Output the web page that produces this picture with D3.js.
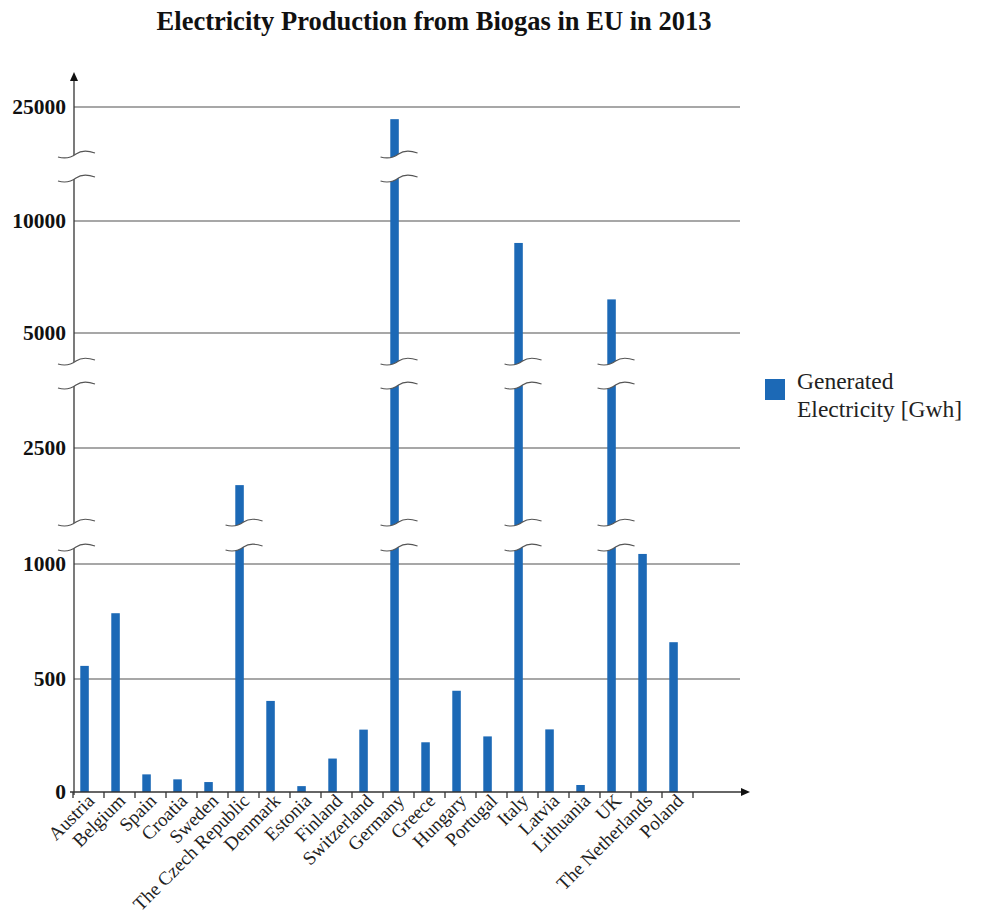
<!DOCTYPE html>
<html>
<head>
<meta charset="utf-8">
<script src="https://cdn.jsdelivr.net/npm/d3@7/dist/d3.min.js"></script>
<style>
  body { margin: 0; background: #fff; }
  svg { display: block; }
  text { font-family: "Liberation Serif", "Times New Roman", serif; }
</style>
</head>
<body>
<svg id="chart" width="984" height="916"></svg>
<script>
const countries = ["Austria", "Belgium", "Spain", "Croatia", "Sweden", "The Czech Republic", "Denmark", "Estonia", "Finland", "Switzerland", "Germany", "Greece", "Hungary", "Portugal", "Italy", "Latvia", "Lithuania", "UK", "The Netherlands", "Poland"];
const values = [557, 786, 78, 56, 44, 2020, 403, 26, 148, 276, 23400, 220, 448, 246, 9020, 277, 31, 6500, 1130, 660];
const yTicks = [0, 500, 1000, 2500, 5000, 10000, 25000];
const yBreaks = [[1220, 1543], [3870, 4391], [15660, 18820]];
const title = "Electricity Production from Biogas in EU in 2013";
const legendLines = ["Generated", "Electricity [Gwh]"];

(function () {
const barColor = "#1c69b6";
const gridColor = "#8a8a8a";
const axisColor = "#333";

const svg = d3.select("#chart");
const axisX = 74, plotBottom = 792;

const x = d3.scaleBand().domain(countries).range([73, 693]);
const y = d3.scaleLinear().domain(yTicks).range([792, 679, 564, 448, 333, 221, 107]);

// title
svg.append("text").attr("x", 434).attr("y", 30).attr("text-anchor", "middle")
  .attr("font-size", 26.5).attr("font-weight", "bold").attr("fill", "#111").text(title);

// grid
svg.append("g").selectAll("line").data(yTicks.filter(d => d > 0)).join("line")
  .attr("x1", axisX).attr("x2", 740).attr("y1", d => y(d)).attr("y2", d => y(d))
  .attr("stroke", gridColor).attr("stroke-width", 1.3);

// bars
const bw = x.step() * 0.275, boff = x.step() * 0.235;
svg.append("g").selectAll("rect").data(countries).join("rect")
  .attr("x", d => x(d) + boff).attr("width", bw)
  .attr("y", (d, i) => y(values[i])).attr("height", (d, i) => plotBottom - y(values[i]))
  .attr("fill", barColor);

// axes
const ax = svg.append("g").attr("stroke", axisColor).attr("stroke-width", 1.3);
ax.append("line").attr("x1", axisX).attr("x2", axisX).attr("y1", plotBottom + 3).attr("y2", 78);
ax.append("line").attr("x1", 70).attr("x2", 744).attr("y1", plotBottom).attr("y2", plotBottom);
svg.append("path").attr("d", `M${axisX},72 L${axisX - 4},81 L${axisX + 4},81 Z`).attr("fill", "#111");
svg.append("path").attr("d", `M750,${plotBottom} L741,${plotBottom - 4} L741,${plotBottom + 4} Z`).attr("fill", "#111");
const tickPos = countries.map(c => x(c)).concat([x.range()[1]]);
ax.selectAll("line.tk").data(tickPos).join("line").attr("class", "tk")
  .attr("x1", d => d).attr("x2", d => d).attr("y1", plotBottom).attr("y2", plotBottom + 6);

// y tick labels
svg.append("g").selectAll("text").data(yTicks).join("text")
  .attr("x", 66).attr("y", d => y(d) + 7).attr("text-anchor", "end")
  .attr("font-size", 21.5).attr("font-weight", "bold").attr("fill", "#111").text(d => d);

// x labels
svg.append("g").selectAll("text").data(countries).join("text")
  .attr("text-anchor", "end").attr("font-size", 19).attr("fill", "#222")
  .attr("transform", d => `translate(${x(d) + x.bandwidth() / 2 + 7},${plotBottom + 10}) rotate(-45)`)
  .text(d => d);

// breaks
function wave(cx, cy) {
  return `M${cx - 16},${cy + 3} Q${cx - 6},${cy + 6} ${cx + 2},${cy} Q${cx + 9},${cy - 5} ${cx + 21},${cy - 1}`;
}
function gap(cx, yHi, yLo) {
  return `M${cx - 16},${yHi + 3} Q${cx - 6},${yHi + 6} ${cx + 2},${yHi} Q${cx + 9},${yHi - 5} ${cx + 21},${yHi - 1}` +
    ` L${cx + 21},${yLo - 1} Q${cx + 9},${yLo - 5} ${cx + 2},${yLo} Q${cx - 6},${yLo + 6} ${cx - 16},${yLo + 3} Z`;
}
const bg = svg.append("g");
yBreaks.forEach(([lo, hi]) => {
  const yLo = y(lo), yHi = y(hi);
  const centers = [axisX];
  countries.forEach((c, i) => { if (values[i] > hi) centers.push(x(c) + boff + bw / 2 + 2); });
  centers.forEach(cx => {
    bg.append("path").attr("d", gap(cx, yHi, yLo)).attr("fill", "#fff");
    bg.append("path").attr("d", wave(cx, yHi)).attr("fill", "none").attr("stroke", "#555").attr("stroke-width", 1.2);
    bg.append("path").attr("d", wave(cx, yLo)).attr("fill", "none").attr("stroke", "#555").attr("stroke-width", 1.2);
  });
});

// legend
svg.append("rect").attr("x", 765).attr("y", 379).attr("width", 20).attr("height", 21).attr("fill", barColor);
svg.append("g").selectAll("text").data(legendLines).join("text")
  .attr("x", 797).attr("y", (d, i) => 389 + i * 28).attr("font-size", 23.5).attr("fill", "#222").text(d => d);
})();
</script>
</body>
</html>
